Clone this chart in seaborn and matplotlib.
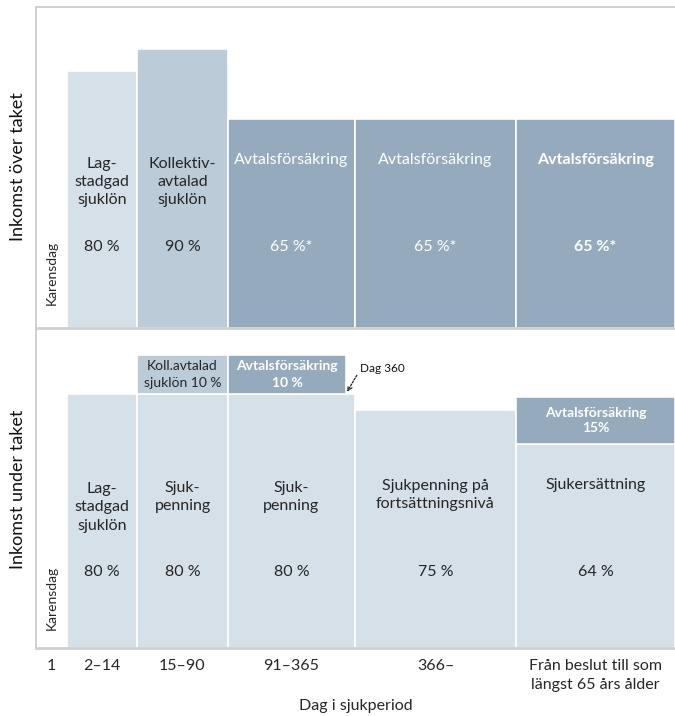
import numpy as np
import matplotlib
matplotlib.use("Agg")
import matplotlib.pyplot as plt
import seaborn as sns

sns.set_theme(style="white")
plt.rcParams['font.family'] = ['Lato', 'DejaVu Sans']

# ---------------- data ----------------
periods = ["1", "2–14", "15–90", "91–365", "366–",
           "Från beslut till som\nlängst 65 års ålder"]

top_names = ["Lag-\nstadgad\nsjuklön", "Kollektiv-\navtalad\nsjuklön",
             "Avtalsförsäkring", "Avtalsförsäkring", "Avtalsförsäkring"]
top_heights = [80, 87, 65, 65, 65]
top_pct = ["80 %", "90 %", "65 %*", "65 %*", "65 %*"]

bot_names = ["Lag-\nstadgad\nsjuklön", "Sjuk-\npenning", "Sjuk-\npenning",
             "Sjukpenning på\nfortsättningsnivå", "Sjukersättning"]
bot_heights = [80, 80, 80, 75, 64]
bot_pct = ["80 %", "80 %", "80 %", "75 %", "64 %"]

extra_names = ["", "Koll.avtalad\nsjuklön 10 %", "Avtalsförsäkring\n10 %", "",
               "Avtalsförsäkring\n15%"]
extra_heights = [0, 12, 12, 0, 15]

karens_label = "Karensdag"
top_title = "Inkomst över taket"
bot_title = "Inkomst under taket"
x_title = "Dag i sjukperiod"
dag360_label = "Dag 360"

# ---------------- layout / style ----------------
col_widths = np.array([31, 70, 91, 127, 161, 159], dtype=float)
dag360_frac = 0.93
LIGHT = "#d6e0e8"
MID = "#bccbd8"
DARK = "#95abbd"
TXT = "#262626"
FRAME = "#d0d0d0"
FS = 11.5

top_colors = [LIGHT, MID, DARK, DARK, DARK]
top_txtc = [TXT, TXT, "white", "white", "white"]
top_weight = ["normal", "normal", "normal", "normal", "bold"]
top_name_y = [45.5, 45.5, 52.3, 52.3, 52.3]
bot_name_y = [44.3, 47.5, 47.5, 48.1, 51.3]
extra_colors = [None, MID, DARK, None, DARK]
extra_txtc = [None, TXT, "white", None, "white"]
extra_weight = [None, "normal", "bold", None, "bold"]
extra_ls = [None, 1.5, 1.5, None, 1.35]

W, H = 675, 716
fig = plt.figure(figsize=(W / 100, H / 100), dpi=100)


def rect(x0, y0, x1, y1):
    return [x0 / W, 1 - y1 / H, (x1 - x0) / W, (y1 - y0) / H]


ax_top = fig.add_axes(rect(36, 7, 675, 328))
ax_bot = fig.add_axes(rect(36, 330, 675, 648))

edges = np.concatenate([[0], np.cumsum(col_widths)])
lefts = edges[:-1]
centers = lefts + col_widths / 2

for ax in (ax_top, ax_bot):
    ax.set_xlim(0, edges[-1])
    ax.set_ylim(0, 100)
    ax.set_yticks([])
    ax.set_facecolor("white")
    ax.grid(False)

# ---- top panel ----
ax_top.bar(lefts[1:], top_heights, width=col_widths[1:], align="edge",
           color=top_colors, edgecolor="white", linewidth=1.2)
for i in range(5):
    ax_top.text(centers[i + 1], top_name_y[i], top_names[i], ha="center",
                va="center", color=top_txtc[i], fontsize=FS,
                fontweight=top_weight[i], linespacing=1.4)
    ax_top.text(centers[i + 1], 25.2, top_pct[i], ha="center", va="center",
                color=top_txtc[i], fontsize=FS, fontweight=top_weight[i])
ax_top.text(centers[0], 17.1, karens_label, rotation=90, ha="center",
            va="center", fontsize=10, color=TXT)
ax_top.set_xticks([])

# ---- bottom panel ----
ax_bot.bar(lefts[1:], bot_heights, width=col_widths[1:], align="edge",
           color=LIGHT, edgecolor="white", linewidth=1.2)
for i in range(5):
    if extra_heights[i] == 0:
        continue
    w = col_widths[i + 1] * (dag360_frac if i == 2 else 1.0)
    ax_bot.bar(lefts[i + 1], extra_heights[i], width=w, bottom=bot_heights[i],
               align="edge", color=extra_colors[i], edgecolor="white",
               linewidth=1.2)
    ax_bot.text(lefts[i + 1] + w / 2, bot_heights[i] + extra_heights[i] / 2,
                extra_names[i], ha="center", va="center", color=extra_txtc[i],
                fontsize=10, fontweight=extra_weight[i],
                linespacing=extra_ls[i])
for i in range(5):
    ax_bot.text(centers[i + 1], bot_name_y[i], bot_names[i], ha="center",
                va="center", color=TXT, fontsize=FS, linespacing=1.4)
    ax_bot.text(centers[i + 1], 23.9, bot_pct[i], ha="center", va="center",
                color=TXT, fontsize=FS)
ax_bot.text(centers[0], 15.7, karens_label, rotation=90, ha="center",
            va="center", fontsize=10, color=TXT)

x360 = lefts[3] + col_widths[3] * dag360_frac
ax_bot.annotate(dag360_label, xy=(x360 + 1, bot_heights[2] + 0.6),
                xytext=(x360 + 14, 88), ha="left", va="center",
                fontsize=8.5, color="#111111",
                arrowprops=dict(arrowstyle="->", linestyle=(0, (1.5, 1.2)),
                                color="#222222", lw=0.9, shrinkA=0, shrinkB=0,
                                relpos=(0, 0.35), mutation_scale=8))

ax_bot.set_xticks(centers)
ax_bot.set_xticklabels(periods, fontsize=FS, color=TXT, va="top",
                       linespacing=1.45)
ax_bot.tick_params(axis="x", length=0, pad=8)

# ---- spines ----
for sp in ax_top.spines.values():
    sp.set_visible(False)
for sp in ax_bot.spines.values():
    sp.set_visible(False)
for name, lw in (("top", 1.4), ("left", 1.4), ("bottom", 2.0)):
    ax_top.spines[name].set_visible(True)
    ax_top.spines[name].set_color(FRAME)
    ax_top.spines[name].set_linewidth(lw)
for name, lw in (("left", 1.4), ("bottom", 2.0)):
    ax_bot.spines[name].set_visible(True)
    ax_bot.spines[name].set_color(FRAME)
    ax_bot.spines[name].set_linewidth(lw)

# ---- titles ----
fig.text(18 / W, 1 - 167 / H, top_title, rotation=90, ha="center",
         va="center", fontsize=13, color="#111111")
fig.text(18 / W, 1 - 489 / H, bot_title, rotation=90, ha="center",
         va="center", fontsize=13, color="#111111")
fig.text(355.5 / W, 1 - 706 / H, x_title, ha="center", va="center",
         fontsize=FS, color=TXT)

fig.savefig("out.png", dpi=100, facecolor="white")
